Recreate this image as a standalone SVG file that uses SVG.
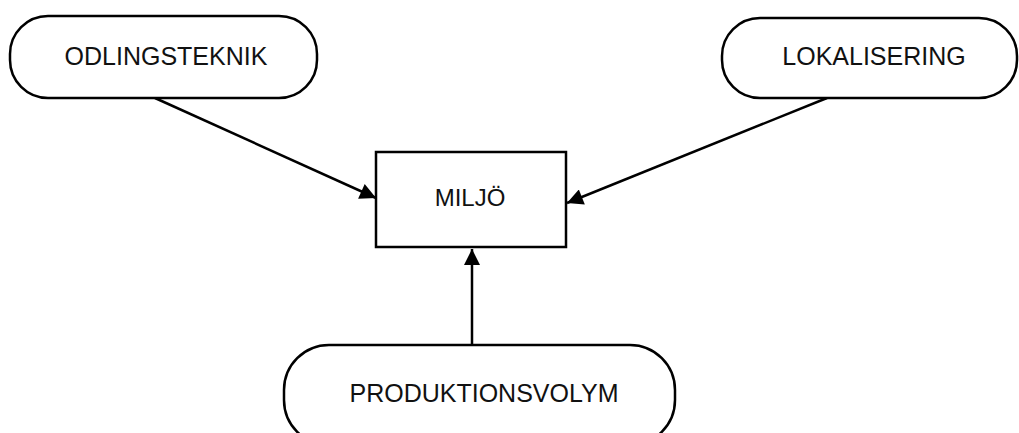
<svg xmlns="http://www.w3.org/2000/svg" width="1019" height="433" viewBox="0 0 1019 433">
<style>
.n{fill:#fff;stroke:#000;stroke-width:2.5}
.t{font-family:"Liberation Sans",Arial,sans-serif;font-size:25px;fill:#111;text-anchor:middle}
.c{stroke:#000;stroke-width:2.5;fill:none;marker-end:url(#ah)}
</style>
<defs>
<marker id="ah" viewBox="0 0 10 10" refX="10" refY="5" markerUnits="userSpaceOnUse" markerWidth="20" markerHeight="16" orient="auto">
<path d="M0,0 L10,5 L0,10 Z" fill="#000"/>
</marker>
</defs>
<g id="connectors">
<line class="c" x1="155" y1="98" x2="376" y2="198"/>
<line class="c" x1="827" y1="98" x2="567" y2="203"/>
<line class="c" x1="472" y1="345" x2="472" y2="249"/>
</g>
<g id="odlingsteknik">
<rect class="n" x="10" y="16" width="307" height="82" rx="38" ry="38"/>
<text class="t" x="166" y="65">ODLINGSTEKNIK</text>
</g>
<g id="lokalisering">
<rect class="n" x="722" y="18" width="295" height="80" rx="38" ry="38"/>
<text class="t" x="874" y="65">LOKALISERING</text>
</g>
<g id="miljo">
<rect class="n" x="376" y="152" width="190" height="95"/>
<text class="t" x="470" y="206" style="font-size:24px">MILJÖ</text>
</g>
<g id="produktionsvolym">
<rect class="n" x="284" y="345" width="391" height="100" rx="45" ry="45"/>
<text class="t" x="484" y="402">PRODUKTIONSVOLYM</text>
</g>
</svg>
